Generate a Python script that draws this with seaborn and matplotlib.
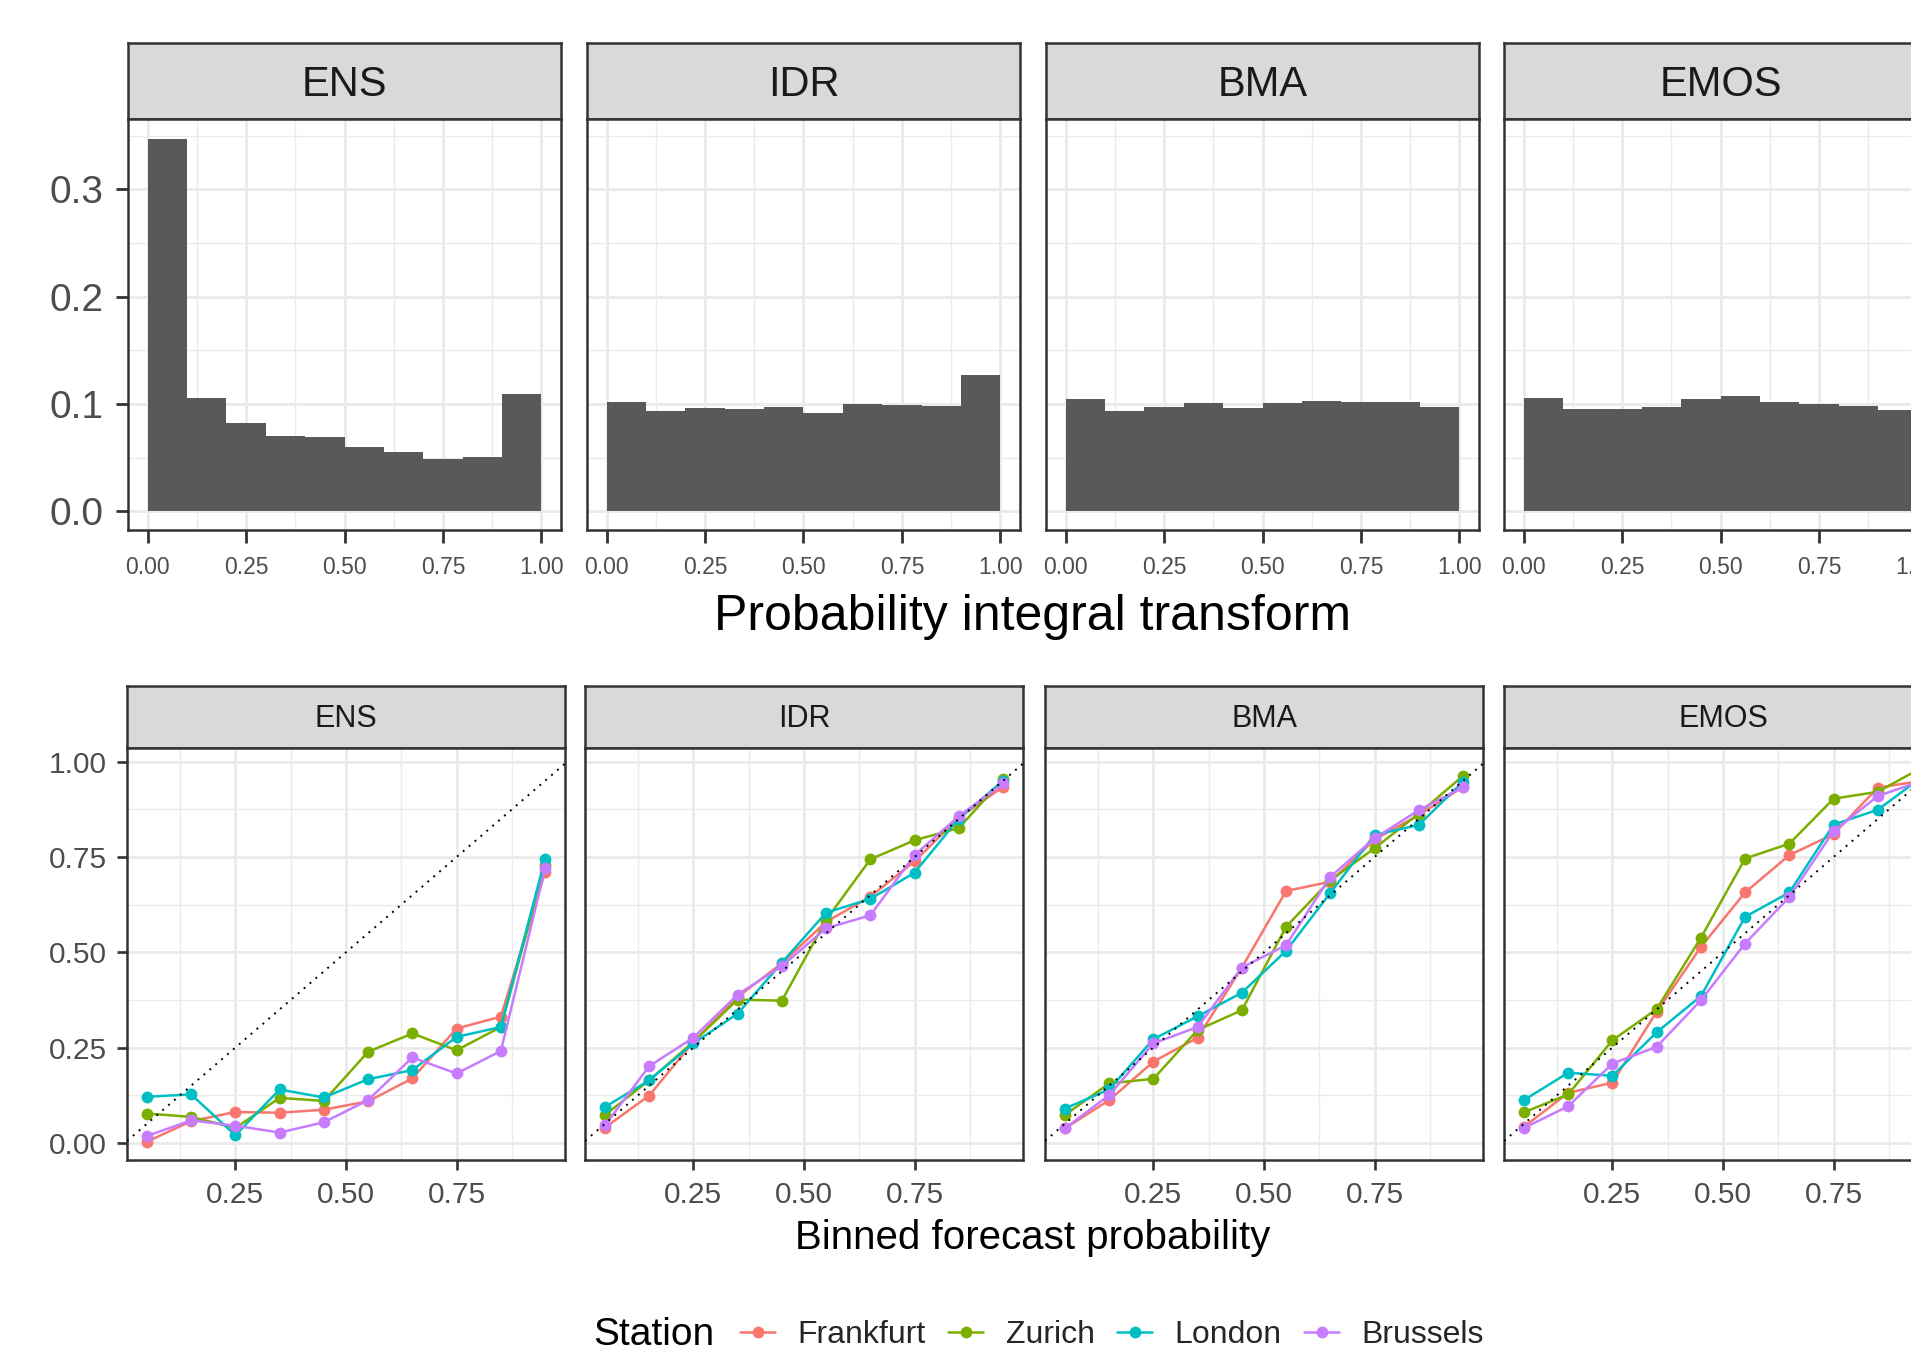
import numpy as np
import pandas as pd
import matplotlib
matplotlib.use("Agg")
import matplotlib.pyplot as plt
import seaborn as sns
from matplotlib.lines import Line2D
from matplotlib.ticker import FixedLocator, FormatStrFormatter

# ---------------- data ----------------
methods = ["ENS", "IDR", "BMA", "EMOS"]
stations = ["Frankfurt", "Zurich", "London", "Brussels"]
station_colors = ["#F8766D", "#7CAE00", "#00BFC4", "#C77CFF"]

# PIT histogram: bin midpoints and relative frequencies
pit_mid = [0.05, 0.15, 0.25, 0.35, 0.45, 0.55, 0.65, 0.75, 0.85, 0.95]
pit_edges = [0.0, 0.1, 0.2, 0.3, 0.4, 0.5, 0.6, 0.7, 0.8, 0.9, 1.0]
pit_ens = [0.347, 0.106, 0.082, 0.070, 0.069, 0.060, 0.055, 0.049, 0.051, 0.109]
pit_idr = [0.102, 0.093, 0.096, 0.095, 0.097, 0.092, 0.100, 0.099, 0.098, 0.127]
pit_bma = [0.105, 0.093, 0.097, 0.101, 0.096, 0.101, 0.103, 0.102, 0.102, 0.097]
pit_emos = [0.106, 0.095, 0.095, 0.097, 0.105, 0.107, 0.102, 0.100, 0.098, 0.094]

# Reliability diagram: binned forecast probability vs observed frequency
prob_bins = [0.05, 0.15, 0.25, 0.35, 0.45, 0.55, 0.65, 0.75, 0.85, 0.95]

ens_frankfurt = [0.003, 0.057, 0.081, 0.079, 0.087, 0.109, 0.169, 0.300, 0.331, 0.711]
ens_zurich = [0.077, 0.068, 0.039, 0.118, 0.110, 0.239, 0.287, 0.243, 0.304, 0.729]
ens_london = [0.121, 0.127, 0.020, 0.140, 0.119, 0.167, 0.191, 0.278, 0.304, 0.745]
ens_brussels = [0.018, 0.059, 0.045, 0.027, 0.054, 0.112, 0.224, 0.182, 0.241, 0.720]

idr_frankfurt = [0.040, 0.124, 0.265, 0.383, 0.471, 0.580, 0.646, 0.739, 0.853, 0.934]
idr_zurich = [0.073, 0.164, 0.265, 0.376, 0.373, 0.585, 0.744, 0.794, 0.826, 0.954]
idr_london = [0.094, 0.164, 0.261, 0.339, 0.473, 0.604, 0.640, 0.709, 0.851, 0.950]
idr_brussels = [0.046, 0.201, 0.276, 0.389, 0.464, 0.563, 0.597, 0.755, 0.857, 0.943]

bma_frankfurt = [0.038, 0.112, 0.213, 0.276, 0.460, 0.661, 0.685, 0.796, 0.860, 0.934]
bma_zurich = [0.073, 0.156, 0.168, 0.296, 0.348, 0.567, 0.689, 0.773, 0.864, 0.963]
bma_london = [0.090, 0.140, 0.272, 0.332, 0.394, 0.504, 0.656, 0.808, 0.834, 0.948]
bma_brussels = [0.038, 0.125, 0.261, 0.304, 0.460, 0.519, 0.698, 0.799, 0.873, 0.933]

emos_frankfurt = [0.042, 0.131, 0.158, 0.344, 0.514, 0.657, 0.755, 0.810, 0.932, 0.950]
emos_zurich = [0.080, 0.127, 0.269, 0.351, 0.538, 0.746, 0.785, 0.903, 0.921, 0.985]
emos_london = [0.112, 0.184, 0.176, 0.290, 0.385, 0.593, 0.657, 0.835, 0.874, 0.960]
emos_brussels = [0.039, 0.096, 0.208, 0.252, 0.374, 0.523, 0.645, 0.818, 0.910, 0.950]

pit_values = {"ENS": pit_ens, "IDR": pit_idr, "BMA": pit_bma, "EMOS": pit_emos}
rel_values = {
    "ENS": [ens_frankfurt, ens_zurich, ens_london, ens_brussels],
    "IDR": [idr_frankfurt, idr_zurich, idr_london, idr_brussels],
    "BMA": [bma_frankfurt, bma_zurich, bma_london, bma_brussels],
    "EMOS": [emos_frankfurt, emos_zurich, emos_london, emos_brussels],
}

rows = []
for m in methods:
    for s, vals in zip(stations, rel_values[m]):
        for p, v in zip(prob_bins, vals):
            rows.append({"Method": m, "Station": s, "prob": p, "freq": v})
rel_df = pd.DataFrame(rows)

pit_rows = []
for m in methods:
    for p, v in zip(pit_mid, pit_values[m]):
        pit_rows.append({"Method": m, "pit": p, "w": v})
pit_df = pd.DataFrame(pit_rows)

# ---------------- style ----------------
sns.set_theme(style="white")
plt.rcParams["font.family"] = ["Liberation Sans", "DejaVu Sans"]

W, H = 1911, 1348
fig = plt.figure(figsize=(W / 100, H / 100), dpi=100)
fig.patch.set_facecolor("white")

BORDER = "#333333"
GRID = "#EBEBEB"
TICKLAB = "#4D4D4D"
SPINE_LW = 1.8


def px_axes(left, top, width, height):
    return fig.add_axes([left / W, 1 - (top + height) / H, width / W, height / H])


def make_strip(left, top, width, height, label, fs, ty):
    sax = px_axes(left, top, width, height)
    sax.set_facecolor("#D9D9D9")
    sax.set_xticks([])
    sax.set_yticks([])
    for sp in sax.spines.values():
        sp.set_color(BORDER)
        sp.set_linewidth(SPINE_LW)
        sp.set_visible(True)
    sax.text(0.5, ty, label, transform=sax.transAxes, ha="center",
             va="center", fontsize=fs, color="#1A1A1A")
    return sax


def style_panel(ax, xmaj, xmin, ymaj, ymin, xfmt, yfmt, xfs, yfs, show_y,
                tlen, twid, xpad, ypad):
    ax.set_facecolor("white")
    ax.xaxis.set_major_locator(FixedLocator(xmaj))
    ax.xaxis.set_minor_locator(FixedLocator(xmin))
    ax.yaxis.set_major_locator(FixedLocator(ymaj))
    ax.yaxis.set_minor_locator(FixedLocator(ymin))
    ax.xaxis.set_major_formatter(FormatStrFormatter(xfmt))
    ax.yaxis.set_major_formatter(FormatStrFormatter(yfmt))
    ax.grid(True, which="major", color=GRID, linewidth=2.1)
    ax.grid(True, which="minor", color=GRID, linewidth=1.05)
    ax.set_axisbelow(True)
    ax.tick_params(axis="both", which="minor", length=0)
    ax.tick_params(axis="x", which="major", length=tlen, width=twid, color=BORDER,
                   labelsize=xfs, labelcolor=TICKLAB, pad=xpad, bottom=True)
    ax.tick_params(axis="y", which="major", length=tlen, width=twid, color=BORDER,
                   labelsize=yfs, labelcolor=TICKLAB, pad=ypad, left=True)
    if not show_y:
        ax.tick_params(axis="y", which="major", left=False, labelleft=False)
    for sp in ax.spines.values():
        sp.set_color(BORDER)
        sp.set_linewidth(SPINE_LW)
        sp.set_visible(True)
    ax.set_xlabel("")
    ax.set_ylabel("")


# ---------------- top row: PIT histograms ----------------
top_lefts = [128, 587, 1046, 1504]
top_w = 433
for i, m in enumerate(methods):
    make_strip(top_lefts[i], 43, top_w, 76, m, 30, 0.45)
    ax = px_axes(top_lefts[i], 119, top_w, 411)
    d = pit_df[pit_df["Method"] == m]
    sns.histplot(data=d, x="pit", weights="w", bins=pit_edges, stat="count",
                 color="#595959", alpha=1, edgecolor="none", linewidth=0, ax=ax)
    ax.set_xlim(-0.05, 1.05)
    ax.set_ylim(-0.0174, 0.3654)
    style_panel(ax, [0, 0.25, 0.5, 0.75, 1.0], [0.125, 0.375, 0.625, 0.875],
                [0, 0.1, 0.2, 0.3], [0.05, 0.15, 0.25, 0.35], "%.2f", "%.1f",
                16.5, 28, i == 0, 9, 2.0, 10, 8.5)

fig.text(1033 / W, 1 - 617 / H, "Probability integral transform", ha="center",
         va="center", fontsize=36, color="black")

# ---------------- bottom row: reliability diagrams ----------------
bot_lefts = [127, 585, 1045, 1504]
bot_w = 438
for i, m in enumerate(methods):
    make_strip(bot_lefts[i], 686, bot_w, 62, m, 22, 0.46)
    ax = px_axes(bot_lefts[i], 748, bot_w, 412)
    d = rel_df[rel_df["Method"] == m]
    sns.lineplot(data=d, x="prob", y="freq", hue="Station", hue_order=stations,
                 palette=station_colors, marker="o", markersize=8.5,
                 markeredgewidth=0, linewidth=1.8, legend=False, errorbar=None,
                 ax=ax, zorder=3)
    ax.axline((0, 0), (1, 1), color="black", linestyle=(0, (1, 3)),
              linewidth=1.4, zorder=4)
    ax.set_xlim(0.005, 0.995)
    ax.set_ylim(-0.045, 1.036)
    style_panel(ax, [0.25, 0.5, 0.75], [0.125, 0.375, 0.625, 0.875],
                [0, 0.25, 0.5, 0.75, 1.0], [0.125, 0.375, 0.625, 0.875],
                "%.2f", "%.2f", 21.5, 21.5, i == 0, 7.5, 1.9, 7.5, 7)

fig.text(1033 / W, 1 - 1238 / H, "Binned forecast probability", ha="center",
         va="center", fontsize=29, color="black")

# ---------------- legend ----------------
fig.text(593 / W, 1 - 1335 / H, "Station", ha="left", va="center",
         fontsize=28, color="black")
handles = [Line2D([0], [0], color=c, marker="o", markersize=8.5,
                  markeredgewidth=0, linewidth=1.8) for c in station_colors]
fig.legend(handles, stations, loc="center left",
           bbox_to_anchor=(740 / W, 1 - 1335 / H), ncol=4, frameon=False,
           fontsize=23, handlelength=1.1, handletextpad=0.7,
           columnspacing=0.7, borderpad=0, borderaxespad=0, numpoints=1)

fig.savefig("out.png", dpi=100, facecolor="white")
